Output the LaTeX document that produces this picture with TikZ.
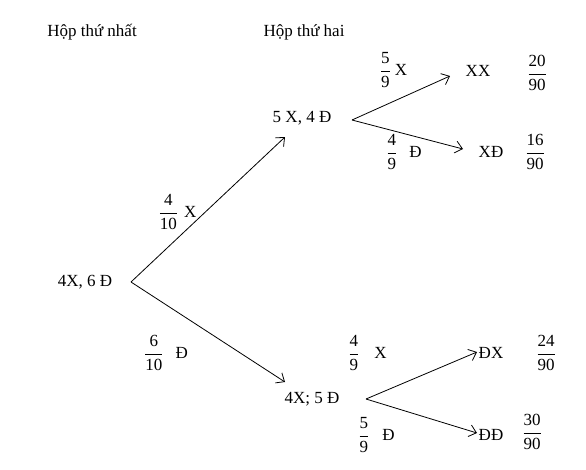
\documentclass[tikz,border=0pt]{standalone}
\usepackage{fontspec}
\setmainfont{Liberation Serif}
\usetikzlibrary{arrows.meta}
\newcommand\myfrac[2]{$\displaystyle\frac{\mbox{#1}}{\mbox{#2}}$}
\begin{document}
\begin{tikzpicture}[x=1pt,y=-1pt,font=\fontsize{17}{20}\selectfont,inner sep=0pt,
  arr/.style={draw,line width=0.8pt,-{Straight Barb[length=7pt,width=12pt,line width=0.8pt]}}]
\useasboundingbox (0,0) rectangle (586,469);
% headings
\node (h1) at (92,32) {Hộp thứ nhất};
\node (h2) at (304,32) {Hộp thứ hai};
% states
\node (a) at (85,282) {4X, 6 Đ};
\node (b) at (302,118) {5 X, 4 Đ};
\node (c) at (312,399) {4X; 5 Đ};
% outcomes
\node (xx) at (478,71) {XX};
\node (xd) at (491,152) {XĐ};
\node (dx) at (491,353) {ĐX};
\node (dd) at (491,435) {ĐĐ};
% outcome probabilities
\node (pxx) at (537,73) {\myfrac{20}{90}};
\node (pxd) at (535,152) {\myfrac{16}{90}};
\node (pdx) at (546,353) {\myfrac{24}{90}};
\node (pdd) at (532,432) {\myfrac{30}{90}};
% branch labels
\node (l1) at (177.5,212) {\myfrac{4}{10}\hspace{6pt}X};
\node (l2) at (166,353) {\myfrac{6}{10}\hspace{12pt}Đ};
\node (m1) at (393.5,70) {\myfrac{5}{9}\hspace{4pt}X};
\node (m2) at (404,152) {\myfrac{4}{9}\hspace{12pt}Đ};
\node (m3) at (367.5,353) {\myfrac{4}{9}\hspace{15pt}X};
\node (m4) at (376.5,435) {\myfrac{5}{9}\hspace{13pt}Đ};
% connectors
\draw[arr] ([shift={(46,0)}]a.center) -- ([shift={(-17,19)}]b.center);
\draw[arr] ([shift={(46,0)}]a.center) -- ([shift={(-27,-17)}]c.center);
\draw[arr] ([shift={(50,2)}]b.center) -- ([shift={(-28,5)}]xx.center);
\draw[arr] ([shift={(50,2)}]b.center) -- ([shift={(-28,-3)}]xd.center);
\draw[arr] ([shift={(54,0)}]c.center) -- ([shift={(-14,-1)}]dx.center);
\draw[arr] ([shift={(54,0)}]c.center) -- ([shift={(-14,-2)}]dd.center);
\end{tikzpicture}
\end{document}
